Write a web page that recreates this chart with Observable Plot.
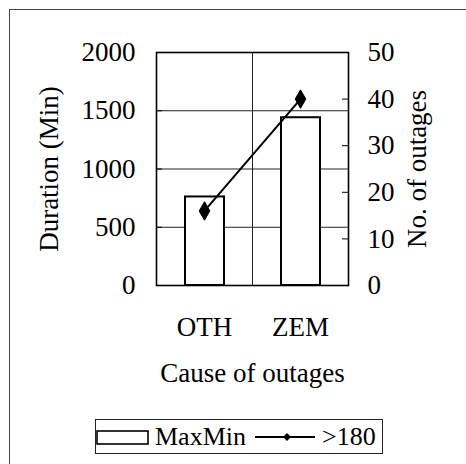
<!DOCTYPE html>
<html>
<head>
<meta charset="utf-8">
<script src="https://cdn.jsdelivr.net/npm/d3@7"></script>
<script src="https://cdn.jsdelivr.net/npm/@observablehq/plot@0.6"></script>
<style>
  html, body { margin: 0; padding: 0; background: #fff; }
  #wrap { position: relative; width: 466px; height: 464px; overflow: hidden; font-family: "Liberation Serif", serif; }
  #frame { position: absolute; left: 9px; top: 9px; width: 470px; height: 470px; border: 1px solid #444; box-sizing: border-box; }
  #chart { position: absolute; left: 0; top: 0; }
  #legend { position: absolute; left: 95px; top: 419px; width: 288px; height: 35px; border: 1px solid #222; box-sizing: border-box;
            display: flex; align-items: center; font-size: 26px; color: #000; }
  #legend span { line-height: 1; }
</style>
</head>
<body>
<div id="wrap">
  <div id="frame"></div>
  <div id="chart"></div>
  <div id="legend"></div>
</div>
<script>
const categories = ["OTH", "ZEM"];
const durationMin = [760, 1440];       // bars, left axis (Min)
const outageCounts = [16, 40];         // line, right axis (No. of outages)
const leftTicks = [0, 500, 1000, 1500, 2000];
const rightTicks = [0, 10, 20, 30, 40, 50];
const seriesNames = ["MaxMin", ">180"];

const leftMax = 2000, rightMax = 50;
const k = leftMax / rightMax;

const data = categories.map((c, i) => ({cat: c, dur: durationMin[i], n: outageCounts[i]}));

const W = 466, H = 410;
const mL = 156, mR = 118, mT = 52, mB = H - 285;
const step = (W - mL - mR) / categories.length;

const font = "Liberation Serif";

const chart = Plot.plot({
  width: W, height: H,
  marginLeft: mL, marginRight: mR, marginTop: mT, marginBottom: mB,
  style: {fontFamily: font, fontSize: "27px", color: "#000", background: "transparent"},
  x: {type: "band", domain: categories, padding: 0},
  y: {domain: [0, leftMax]},
  marks: [
    Plot.ruleY(leftTicks.filter(t => t > 0 && t < leftMax), {stroke: "#222", strokeWidth: 1}),
    Plot.ruleX(categories.slice(1), {stroke: "#222", strokeWidth: 1, dx: -step / 2}),
    Plot.barY(data, {x: "cat", y: "dur", fill: "white", stroke: "black", strokeWidth: 2, insetLeft: 29, insetRight: 28}),
    Plot.line(data, {x: "cat", y: d => d.n * k, stroke: "black", strokeWidth: 2}),
    Plot.dot(data, {x: "cat", y: d => d.n * k, symbol: "diamond", r: 5.6, fill: "black", stroke: "black", strokeWidth: 1}),
    Plot.frame({stroke: "black", strokeWidth: 1.6}),
    Plot.axisX({anchor: "bottom", tickSize: 0, tickPadding: 31, fontSize: 27,
      label: "Cause of outages", labelAnchor: "center", labelOffset: 96, labelArrow: "none"}),
    Plot.axisY({anchor: "left", ticks: leftTicks, tickFormat: d => String(d), tickSize: -6, tickPadding: 27, fontSize: 27,
      label: "Duration (Min)", labelAnchor: "center", labelOffset: 118, labelArrow: "none"}),
    Plot.axisY({anchor: "right", ticks: rightTicks.map(t => t * k), tickFormat: d => String(d / k),
      tickSize: -7, tickPadding: 26, fontSize: 27,
      label: "No. of outages", labelAnchor: "center", labelOffset: 77, labelArrow: "none"})
  ]
});
document.getElementById("chart").appendChild(chart);

// Legend
const legend = d3.select("#legend");
const sw1 = legend.append("svg").attr("width", 54).attr("height", 20).style("margin-left", "0px");
sw1.append("rect").attr("x", 1).attr("y", 4).attr("width", 51).attr("height", 13).attr("fill", "white").attr("stroke", "black").attr("stroke-width", 1.6);
legend.append("span").text(seriesNames[0]).style("margin-left", "5px");
const sw2 = legend.append("svg").attr("width", 64).attr("height", 20).style("margin-left", "7px");
sw2.append("line").attr("x1", 2).attr("x2", 62).attr("y1", 10).attr("y2", 10).attr("stroke", "black").attr("stroke-width", 2);
sw2.append("path").attr("d", d3.symbol(d3.symbolDiamond2, 40)()).attr("transform", "translate(34,10)").attr("fill", "black");
legend.append("span").text(seriesNames[1]).style("margin-left", "5px");
</script>
</body>
</html>
